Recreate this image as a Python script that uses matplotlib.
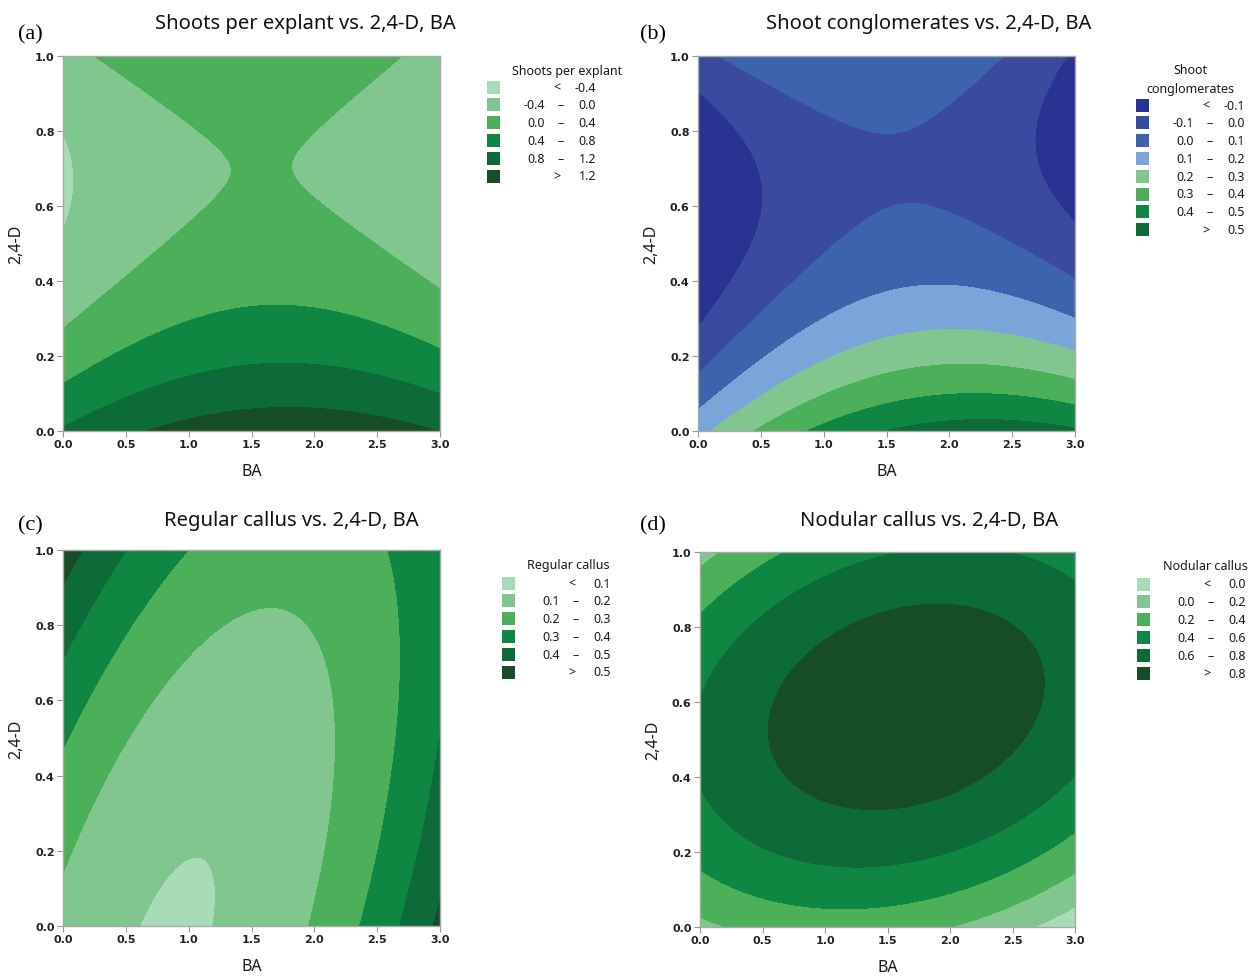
import numpy as np
import matplotlib
matplotlib.use("Agg")
import matplotlib.pyplot as plt
from matplotlib.patches import Rectangle

plt.rcParams['font.family'] = ['Noto Sans', 'DejaVu Sans']

# quadratic response-surface coefficients
# order: const, BA, 2,4-D, BA^2, (2,4-D)^2, BA*2,4-D
shoots_coef = [0.840, 0.666, -3.872, -0.183, 2.908, -0.126]
congl_coef = [0.167, 0.331, -1.261, -0.072, 1.065, -0.144]
regular_coef = [0.171, -0.176, 0.179, 0.0977, 0.202, -0.174]
nodular_coef = [0.150, 0.268, 1.937, -0.121, -1.965, 0.224]

shoots_levels = [-0.4, 0.0, 0.4, 0.8, 1.2]
congl_levels = [-0.1, 0.0, 0.1, 0.2, 0.3, 0.4, 0.5]
regular_levels = [0.1, 0.2, 0.3, 0.4, 0.5]
nodular_levels = [0.0, 0.2, 0.4, 0.6, 0.8]

titles = ["Shoots per explant vs. 2,4-D, BA", "Shoot conglomerates vs. 2,4-D, BA",
          "Regular callus vs. 2,4-D, BA", "Nodular callus vs. 2,4-D, BA"]
legend_titles = ["Shoots per explant", "Shoot\nconglomerates", "Regular callus", "Nodular callus"]
panel_tags = ["(a)", "(b)", "(c)", "(d)"]

greens = ['#a8dcb9', '#80c68e', '#4caf59', '#0f8742', '#0c6b38', '#164c28']
blues_greens = ['#2b3392', '#3a4b9f', '#3e63ad', '#79a5d8', '#80c68e', '#4caf59', '#0f8742', '#0c6b38']

ba = np.linspace(0, 3, 301)
d24 = np.linspace(0, 1, 201)
X, Y = np.meshgrid(ba, d24)


def surface(c):
    return c[0] + c[1] * X + c[2] * Y + c[3] * X ** 2 + c[4] * Y ** 2 + c[5] * X * Y


W, H = 1252, 979
fig = plt.figure(figsize=(W / 100, H / 100), dpi=100)

# axes boxes in pixels: left, right, top, bottom
boxes = [(63, 440, 57, 432), (698, 1075, 57, 432), (63, 440, 551, 927), (700, 1075, 553, 928)]
coefs = [shoots_coef, congl_coef, regular_coef, nodular_coef]
levels_all = [shoots_levels, congl_levels, regular_levels, nodular_levels]
colors_all = [greens, blues_greens, greens, greens]
# legend: patch left x, first row y, title y
leg_pos = [(487, 88, 71), (1136, 106, 80), (502, 584, 566), (1137, 585, 567)]
leg_title_x = [567, 1190, 568, 1205]
title_xy = [(305, 24), (929, 24), (291, 521), (929, 521)]
tag_xy = [(18, 35), (640, 35), (18, 526), (640, 526)]


def fx(px):
    return px / W


def fy(py):
    return 1 - py / H


def fmt(v):
    return f"{v:.1f}"


for i in range(4):
    l, r, t, b = boxes[i]
    ax = fig.add_axes([fx(l), fy(b), (r - l) / W, (b - t) / H])
    Z = surface(coefs[i])
    lv = levels_all[i]
    bounds = [min(Z.min(), lv[0]) - 1] + lv + [max(Z.max(), lv[-1]) + 1]
    ax.contourf(X, Y, Z, levels=bounds, colors=colors_all[i])
    ax.set_xlim(0, 3)
    ax.set_ylim(0, 1)
    ax.set_xticks([0, 0.5, 1.0, 1.5, 2.0, 2.5, 3.0])
    ax.set_xticklabels(["0.0", "0.5", "1.0", "1.5", "2.0", "2.5", "3.0"])
    ax.set_yticks([0, 0.2, 0.4, 0.6, 0.8, 1.0])
    ax.set_yticklabels(["0.0", "0.2", "0.4", "0.6", "0.8", "1.0"])
    ax.tick_params(labelsize=8, length=4, width=0.8, color='#999999', labelcolor='#222222', pad=2)
    for lab in ax.get_xticklabels() + ax.get_yticklabels():
        lab.set_fontweight('bold')
        lab.set_family('DejaVu Sans')
    for s in ax.spines.values():
        s.set_color('#a8a8a8')
        s.set_linewidth(1.0)
    ax.set_xlabel("BA", fontsize=11.5, color='#1a1a1a', labelpad=10)
    ax.set_ylabel("2,4-D", fontsize=11.5, color='#1a1a1a', labelpad=8)

    fig.text(fx(title_xy[i][0]), fy(title_xy[i][1]), titles[i], fontsize=14.5,
             ha='center', va='center', color='#111111')
    fig.text(fx(tag_xy[i][0]), fy(tag_xy[i][1]), panel_tags[i], fontsize=16,
             family='Liberation Serif', ha='left', va='center')

    # legend, Minitab style
    px, py0, ty = leg_pos[i]
    fig.text(fx(leg_title_x[i]), fy(ty), legend_titles[i], fontsize=9, ha='center', va='center',
             color='#1a1a1a', linespacing=1.6)
    cols = colors_all[i]
    n = len(cols)
    step = 17.8
    for k in range(n):
        yy = py0 + k * step
        fig.patches.append(Rectangle((fx(px), fy(yy + 6.5)), 13 / W, 13 / H,
                                     transform=fig.transFigure, facecolor=cols[k], edgecolor='none'))
        if k == 0:
            fig.text(fx(px + 70), fy(yy), "<", fontsize=9, ha='center', va='center', color='#1a1a1a')
            fig.text(fx(px + 109), fy(yy), fmt(lv[0]), fontsize=9, ha='right', va='center', color='#1a1a1a')
        elif k == n - 1:
            fig.text(fx(px + 70), fy(yy), ">", fontsize=9, ha='center', va='center', color='#1a1a1a')
            fig.text(fx(px + 109), fy(yy), fmt(lv[-1]), fontsize=9, ha='right', va='center', color='#1a1a1a')
        else:
            fig.text(fx(px + 58), fy(yy), fmt(lv[k - 1]), fontsize=9, ha='right', va='center', color='#1a1a1a')
            fig.text(fx(px + 74), fy(yy), "\u2013", fontsize=9, ha='center', va='center', color='#1a1a1a')
            fig.text(fx(px + 109), fy(yy), fmt(lv[k]), fontsize=9, ha='right', va='center', color='#1a1a1a')

fig.savefig("out.png", dpi=100)
